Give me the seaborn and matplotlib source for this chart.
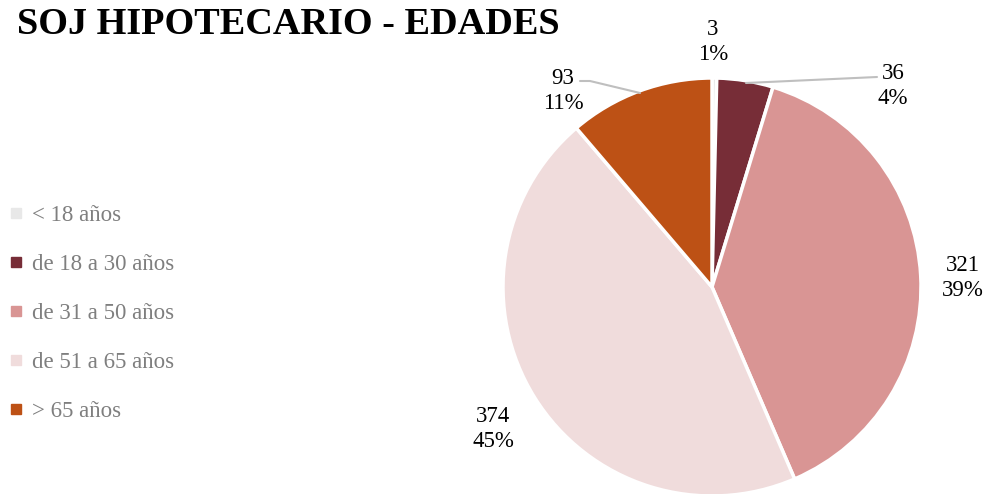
import matplotlib
matplotlib.use("Agg")
import matplotlib.pyplot as plt
import seaborn as sns
from matplotlib.lines import Line2D

# data
categorias = ['< 18 años', 'de 18 a 30 años', 'de 31 a 50 años', 'de 51 a 65 años', '> 65 años']
valores = [3, 36, 321, 374, 93]
porcentajes = ['1%', '4%', '39%', '45%', '11%']
colores = ['#e8e8e8', '#772d37', '#d99594', '#f0dcdc', '#bd5115']

sns.set_theme(style="white")
plt.rcParams['font.family'] = ['Liberation Serif', 'DejaVu Serif']

fig = plt.figure(figsize=(9.89, 4.94), dpi=100)
fig.patch.set_facecolor('white')

# pie axes: center (712,287) radius 209 px
W, H = 989, 494
cx, cy, r = 712, 287, 209
ax = fig.add_axes([(cx - r) / W, (H - cy - r) / H, 2 * r / W, 2 * r / H])
ax.pie(valores, colors=colores, startangle=90, counterclock=False,
       wedgeprops=dict(edgecolor='white', linewidth=2.5), radius=1)
ax.set_xlim(-1, 1)
ax.set_ylim(-1, 1)
ax.set_aspect('equal')
ax.axis('off')

def px(x, y):
    return (x - cx) / r, (cy - y) / r

pos_etq = [(713, 42), (893, 86), (963, 278), (493, 429), (563, 91)]
for (x, y), v, p in zip(pos_etq, valores, porcentajes):
    tx, ty = px(x, y)
    ax.text(tx, ty, f'{v}\n{p}', ha='center', va='center', fontsize=16.5,
            color='black', linespacing=1.25, clip_on=False)

# leader lines
for pts in [[(746, 83), (877, 77)], [(640, 93), (590, 81), (580, 81)]]:
    xs, ys = zip(*[px(a, b) for a, b in pts])
    ax.add_line(Line2D(xs, ys, color='#bfbfbf', lw=1.5, clip_on=False))

fig.text(17 / W, 1 - 24 / H, 'SOJ HIPOTECARIO - EDADES', fontsize=27.5,
         fontweight='bold', va='center', ha='left', color='black')

handles = [Line2D([], [], marker='s', ls='', color=c, markersize=7) for c in colores]
leg = fig.legend(handles, categorias, loc='upper left', bbox_to_anchor=(0.0, 1 - 196 / H),
                 frameon=False, fontsize=16.5, labelspacing=1.22, handlelength=0.6,
                 handletextpad=0.4, borderaxespad=0)
for t in leg.get_texts():
    t.set_color('#7f7f7f')

fig.savefig('out.png', dpi=100)
